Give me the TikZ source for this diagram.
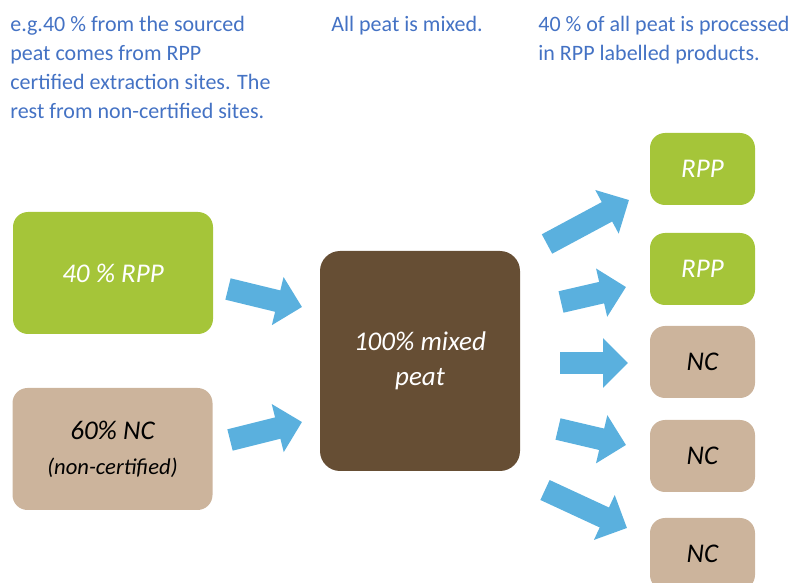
\documentclass[tikz,border=0pt]{standalone}
\usepackage{fontspec}
\setmainfont{Carlito}
\usepackage{tikz}
\usetikzlibrary{arrows.meta}
\definecolor{rppgreen}{RGB}{165,197,57}
\definecolor{nctan}{RGB}{204,180,156}
\definecolor{peatbrown}{RGB}{102,78,52}
\definecolor{flowblue}{RGB}{90,176,222}
\definecolor{noteblue}{RGB}{68,114,196}

\begin{document}
\begin{tikzpicture}[x=0.5pt, y=-0.5pt,
  box/.style={rounded corners=7.5pt, inner sep=0pt, align=center, font=\fontsize{13.5}{17.5}\selectfont\itshape},
  bigbox/.style={box, minimum width=100pt, minimum height=61pt},
  smallbox/.style={box, minimum width=52.5pt, minimum height=36pt},
  note/.style={text=noteblue, align=left, inner sep=0pt, anchor=north west, font=\fontsize{11}{14.5}\selectfont},
  flow/.style={draw=flowblue, line width=11pt, -{Triangle[width=24pt, length=12.5pt]}}]
  \useasboundingbox (0,0) rectangle (800,583);
  \clip (0,0) rectangle (800,583);

  % notes on top
  \node[note] (srcnote) at (10,15.5) {e.g.40 \% from the sourced\\peat comes from RPP\\certified extraction sites. The\\rest from non-certified sites.};
  \node[note] (mixnote) at (331,15.5) {All peat is mixed.};
  \node[note] (outnote) at (538,15.5) {40 \% of all peat is processed\\in RPP labelled products.};

  % sourced peat
  \node[bigbox, fill=rppgreen, text=white] (rpp) at (113,273) {40 \% RPP};
  \node[bigbox, fill=nctan, text=black] (nc) at (112.5,449) {60\% NC\\{\fontsize{11.3}{16}\selectfont(non-certified)}};

  % mixed peat
  \node[box, fill=peatbrown, text=white, minimum width=100pt, minimum height=110pt, rounded corners=10pt] (mix) at (420,361) {100\% mixed\\peat};

  % products
  \node[smallbox, fill=rppgreen, text=white] (out1) at (702.5,169) {RPP};
  \node[smallbox, fill=rppgreen, text=white] (out2) at (702.5,269) {RPP};
  \node[smallbox, fill=nctan, text=black] (out3) at (702.5,362) {NC};
  \node[smallbox, fill=nctan, text=black] (out4) at (702.5,456) {NC};
  \node[smallbox, fill=nctan, text=black] (out5) at (702.5,554) {NC};

  % arrow ends
  \coordinate (in1a) at (228,289);
  \coordinate (in1b) at (302,307);
  \coordinate (in2a) at (230,440);
  \coordinate (in2b) at (302,422);
  \coordinate (o1a) at (547,244);
  \coordinate (o1b) at (629,200);
  \coordinate (o2a) at (561,302);
  \coordinate (o2b) at (626,287);
  \coordinate (o3a) at (560,363);
  \coordinate (o3b) at (628,363);
  \coordinate (o4a) at (558,429);
  \coordinate (o4b) at (626,445);
  \coordinate (o5a) at (545,490);
  \coordinate (o5b) at (627,528);

  \draw[flow] (in1a) -- (in1b);
  \draw[flow] (in2a) -- (in2b);
  \draw[flow] (o1a) -- (o1b);
  \draw[flow] (o2a) -- (o2b);
  \draw[flow] (o3a) -- (o3b);
  \draw[flow] (o4a) -- (o4b);
  \draw[flow] (o5a) -- (o5b);
\end{tikzpicture}
\end{document}
